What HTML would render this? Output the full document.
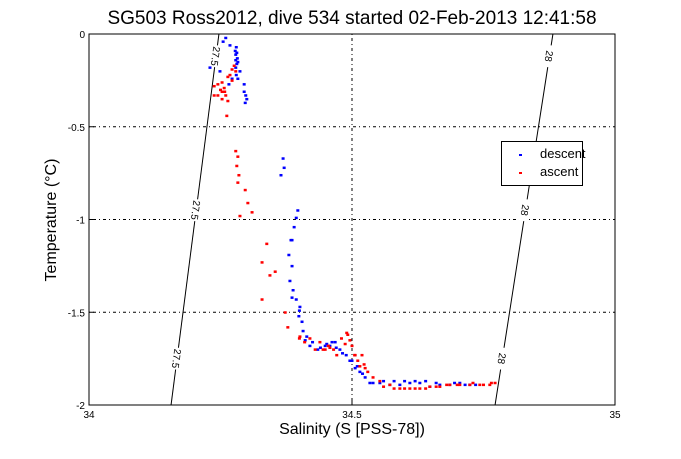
<!DOCTYPE html>
<html><head><meta charset="utf-8"><style>
body{margin:0;background:#fff;}
svg{font-family:"Liberation Sans",sans-serif;}
</style></head><body>
<svg id="c" width="681" height="454"></svg>
<script>
const xTicks=[34,34.5,35];
const xTickLabels=["34","34.5","35"];
const yTicks=[0,-0.5,-1,-1.5,-2];
const yTickLabels=["0","-0.5","-1","-1.5","-2"];
const descS=[34.260,34.255,34.268,34.278,34.279,34.279,34.279,34.283,34.287,34.283,34.295,34.295,34.298,34.297,34.300,34.230,34.249,34.369,34.371,34.365,34.397,34.394,34.390,34.386,34.384,34.380,34.386,34.382,34.388,34.386,34.394,34.401,34.399,34.407,34.411,34.420,34.435,34.449,34.458,34.468,34.477,34.489,34.496,34.506,34.515,34.525,34.534,34.553,34.572,34.591,34.610,34.629,34.648,34.667,34.686,34.705,34.724,
34.400,34.405,34.414,34.425,34.440,34.452,34.462,34.470,34.482,34.500,34.510,34.520,34.540,34.560,34.580,34.600,34.620,34.640,34.660,34.695,34.715,34.735,34.280,34.281,34.282,34.281,34.280,34.272,34.266];
const descT=[-0.02,-0.04,-0.06,-0.09,-0.11,-0.14,-0.18,-0.15,-0.20,-0.24,-0.27,-0.31,-0.33,-0.37,-0.35,-0.18,-0.20,-0.67,-0.72,-0.76,-0.95,-0.99,-1.04,-1.11,-1.11,-1.19,-1.25,-1.33,-1.38,-1.42,-1.43,-1.47,-1.52,-1.60,-1.65,-1.68,-1.70,-1.68,-1.68,-1.66,-1.70,-1.73,-1.76,-1.80,-1.82,-1.85,-1.88,-1.88,-1.89,-1.89,-1.88,-1.88,-1.90,-1.89,-1.89,-1.88,-1.89,
-1.49,-1.55,-1.63,-1.66,-1.69,-1.67,-1.66,-1.69,-1.72,-1.76,-1.79,-1.83,-1.88,-1.87,-1.87,-1.87,-1.87,-1.87,-1.88,-1.88,-1.89,-1.89,-0.07,-0.10,-0.13,-0.16,-0.22,-0.24,-0.27];
const ascS=[34.272,34.264,34.253,34.245,34.238,34.253,34.245,34.257,34.279,34.272,34.260,34.264,34.238,34.253,34.262,34.279,34.283,34.281,34.285,34.283,34.297,34.302,34.310,34.287,34.338,34.329,34.354,34.344,34.329,34.373,34.378,34.401,34.420,34.439,34.449,34.458,34.471,34.487,34.492,34.496,34.506,34.511,34.519,34.523,34.530,34.553,34.572,34.591,34.610,34.629,34.648,34.667,34.686,34.705,34.724,34.743,34.762,34.772,
34.400,34.410,34.430,34.445,34.455,34.465,34.480,34.490,34.500,34.505,34.515,34.525,34.540,34.560,34.580,34.600,34.620,34.640,34.660,34.680,34.700,34.730,34.750,34.765,34.268,34.276,34.250,34.258];
const ascT=[-0.19,-0.23,-0.26,-0.27,-0.28,-0.31,-0.33,-0.29,-0.20,-0.25,-0.33,-0.36,-0.33,-0.35,-0.44,-0.63,-0.66,-0.71,-0.76,-0.80,-0.84,-0.91,-0.96,-0.98,-1.13,-1.23,-1.28,-1.30,-1.43,-1.50,-1.58,-1.63,-1.64,-1.66,-1.70,-1.69,-1.73,-1.67,-1.62,-1.65,-1.73,-1.76,-1.73,-1.78,-1.82,-1.87,-1.89,-1.91,-1.91,-1.91,-1.90,-1.90,-1.89,-1.89,-1.89,-1.89,-1.89,-1.88,
-1.64,-1.66,-1.70,-1.70,-1.68,-1.70,-1.64,-1.61,-1.68,-1.73,-1.79,-1.80,-1.85,-1.90,-1.91,-1.91,-1.91,-1.91,-1.90,-1.89,-1.89,-1.88,-1.89,-1.88,-0.22,-0.17,-0.30,-0.31];
const contourLevels=["27.5","28"];
const contourSBottom=[34.156,34.772];
const contourSTop=[34.247,34.882];
const NS="http://www.w3.org/2000/svg";
const svg=document.getElementById('c');
const L=89,R=615,T0=34,B=405;
const sx=s=>L+(s-34)/(35-34)*(R-L);
const sy=t=>T0+(0-t)/(0-(-2))*(B-T0);
function mk(tag,attrs,parent){const e=document.createElementNS(NS,tag);for(const k in attrs)e.setAttribute(k,attrs[k]);(parent||svg).appendChild(e);return e;}
let bg=mk('rect',{x:L,y:T0,width:R-L,height:B-T0,fill:'#fff',stroke:'none'});


xTicks.forEach((v,i)=>{const x=sx(v);
 if(i>0&&i<xTicks.length-1){let g=mk('line',{x1:x,x2:x,y1:T0,y2:B,stroke:'#000','stroke-width':1,'stroke-dasharray':'1,3,3,3'});
 
 }
 let tk=mk('line',{x1:x,x2:x,y1:B,y2:B-5,stroke:'#000'});
 
 
 let tx=mk('text',{x:x,y:B+13,'font-size':10,'text-anchor':'middle'});tx.textContent=xTickLabels[i];
 
 
});
yTicks.forEach((v,i)=>{const y=sy(v);
 if(i>0&&i<yTicks.length-1){let g=mk('line',{x1:L,x2:R,y1:y,y2:y,stroke:'#000','stroke-width':1,'stroke-dasharray':'1,3,3,3'});
 
 }
 let tk=mk('line',{x1:L,x2:L+5,y1:y,y2:y,stroke:'#000'});
 
 
 let tx=mk('text',{x:L-4,y:y+4,'font-size':10,'text-anchor':'end'});tx.textContent=yTickLabels[i];
 
 
});
contourLevels.forEach((lv,i)=>{
 const x1=sx(contourSBottom[i]),y1=sy(-2),x2=sx(contourSTop[i]),y2=sy(0);
 let ln=mk('line',{x1:x1,y1:y1,x2:x2,y2:y2,stroke:'#000','stroke-width':1});
 
 
 const ang=Math.atan2(y1-y2,x1-x2)*180/Math.PI;
 [-0.12,-0.95,-1.75].forEach(t=>{
  const f=(t+2)/2;const x=x1+(x2-x1)*f,y=sy(t);
  let bgr=mk('rect',{x:-11,y:-5,width:22,height:10,fill:'#fff',transform:`translate(${x},${y}) rotate(${ang})`});
  
  
  let tx=mk('text',{x:0,y:4,'font-size':10,'text-anchor':'middle',transform:`translate(${x},${y}) rotate(${ang})`});
  tx.textContent=lv;
  
  
 });
});
function series(S,Tv,col,name){S.forEach((s,i)=>{
 let r=mk('rect',{x:sx(s)-1.5,y:sy(Tv[i])-1,width:3,height:2.5,fill:col});
 
 
});}
series(descS,descT,'#0000ff','descent');
series(ascS,ascT,'#ff0000','ascent');
let box=mk('rect',{x:L,y:T0,width:R-L,height:B-T0,fill:'none',stroke:'#000','stroke-width':1});


let lg=mk('g',{});


mk('rect',{x:501.5,y:141.5,width:81,height:44,fill:'#fff',stroke:'#000'},lg);
[['descent','#0000ff',157],['ascent','#ff0000',175]].forEach(([n,c,y])=>{
 let d=mk('rect',{x:519,y:y-3,width:3,height:2,fill:c},lg);
 
 
 let t=mk('text',{x:540,y:y+1,'font-size':13},lg);t.textContent=n;
 
 
});
let tt=mk('text',{x:352,y:24,'font-size':19,'text-anchor':'middle'});tt.textContent='SG503 Ross2012, dive 534 started 02-Feb-2013 12:41:58';


let xt=mk('text',{x:352,y:434,'font-size':16,'text-anchor':'middle'});xt.textContent='Salinity (S [PSS-78])';


let yt=mk('text',{x:0,y:0,'font-size':16,'text-anchor':'middle',transform:'translate(56,220) rotate(-90)'});yt.textContent='Temperature (°C)';


</script>
</body></html>
